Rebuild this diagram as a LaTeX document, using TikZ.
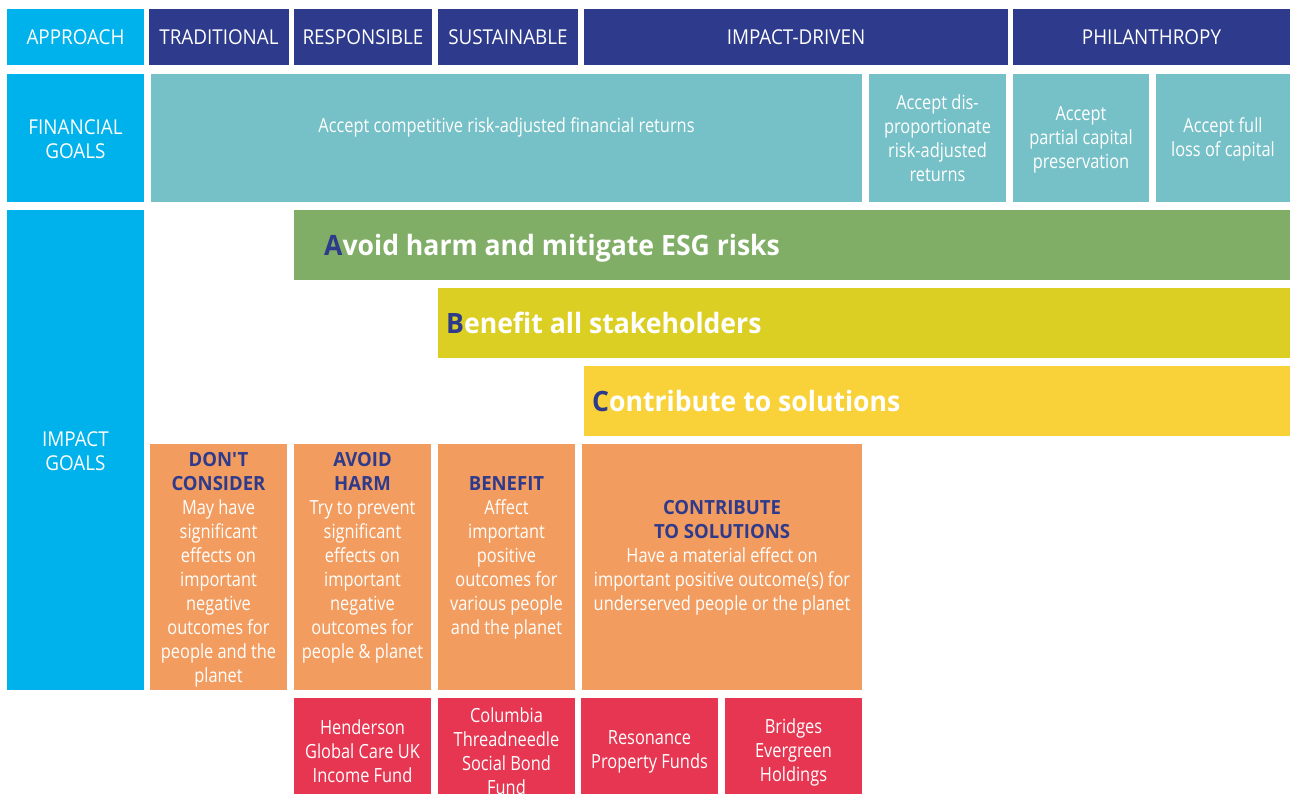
\documentclass[tikz,border=0pt]{standalone}
\usepackage{fontspec}
\setmainfont{Open Sans}[FakeStretch=0.84]
\newfontfamily\hdrfont{Open Sans}[FakeStretch=0.92]
\newfontfamily\boldfont{Open Sans}[FakeStretch=0.95]
\definecolor{cyanb}{HTML}{00B2EB}
\definecolor{navy}{HTML}{2E3A8B}
\definecolor{teal}{HTML}{76C1C7}
\definecolor{greenb}{HTML}{80AE66}
\definecolor{olive}{HTML}{DCCF23}
\definecolor{yell}{HTML}{F9D23A}
\definecolor{orng}{HTML}{F39C5F}
\definecolor{redb}{HTML}{E63652}
\newcommand\mycell[7]{\node[cell, fill=#6, minimum width={#4pt-#2pt}, minimum height={#5pt-#3pt}] (#1) at (#2,#3) {#7};}
\newcommand\hdrcell[7]{\node[cell, hdr, fill=#6, minimum width={#4pt-#2pt}, minimum height={#5pt-#3pt}] (#1) at (#2,#3) {#7};}
\newcommand\hdtxt[1]{\textcolor{navy}{\boldfont\bfseries #1}}
\begin{document}
\begin{tikzpicture}[x=1pt,y=-1pt,
  cell/.style={anchor=north west, inner sep=0pt, outer sep=0pt, align=center, text=white, font=\fontsize{19.5}{24}\selectfont},
  hdr/.style={font=\hdrfont\fontsize{20.5}{24}\selectfont},
  bodytxt/.style={align=center, text=white, inner sep=0pt, font=\fontsize{19.5}{24}\selectfont},
  bartxt/.style={anchor=base west, inner sep=0pt, text=white, font=\boldfont\bfseries\fontsize{28}{32}\selectfont}]
\useasboundingbox (0,0) rectangle (1290,793);
% header row
\hdrcell{ap}{7}{9}{144}{65}{cyanb}{APPROACH}
\hdrcell{tr}{149}{9}{289}{65}{navy}{TRADITIONAL}
\hdrcell{rs}{294}{9}{432}{65}{navy}{RESPONSIBLE}
\hdrcell{su}{438}{9}{578}{65}{navy}{SUSTAINABLE}
\hdrcell{id}{584}{9}{1008}{65}{navy}{IMPACT-DRIVEN}
\hdrcell{ph}{1013}{9}{1290}{65}{navy}{PHILANTHROPY}
% financial row
\mycell{fg}{7}{74}{144}{202}{cyanb}{}
\node[bodytxt, hdr] (fgt) at ([yshift=-1pt]fg.center) {FINANCIAL\\GOALS};
\mycell{f1}{151}{74}{862}{202}{teal}{}
\node[bodytxt] (f1t) at ([yshift=11pt]f1.center) {Accept competitive risk-adjusted financial returns};
\mycell{f2}{869}{74}{1006}{202}{teal}{Accept dis-\\proportionate\\risk-adjusted\\returns}
\mycell{f3}{1013}{74}{1149}{202}{teal}{}
\node[bodytxt] (f3t) at ([yshift=-2pt]f3.center) {Accept\\partial capital\\preservation};
\mycell{f4}{1156}{74}{1290}{202}{teal}{}
\node[bodytxt] (f4t) at ([yshift=-1pt]f4.center) {Accept full\\loss of capital};
% impact row
\mycell{ig}{7}{210}{144}{690}{cyanb}{}
\node[bodytxt, hdr] (igt) at ([yshift=-1pt]ig.center) {IMPACT\\GOALS};
\mycell{ba}{294}{210}{1290}{280}{greenb}{}
\mycell{bb}{438}{288}{1290}{358}{olive}{}
\mycell{bc}{584}{366}{1290}{436}{yell}{}
\node[bartxt] (bat) at ([xshift=30pt,yshift=-10pt]ba.west) {\textcolor{navy}{A}void harm and mitigate ESG risks};
\node[bartxt] (bbt) at ([xshift=8pt,yshift=-10pt]bb.west) {\textcolor{navy}{B}enefit all stakeholders};
\node[bartxt] (bct) at ([xshift=8pt,yshift=-10pt]bc.west) {\textcolor{navy}{C}ontribute to solutions};
% orange boxes
\mycell{dc}{150}{444}{287}{690}{orng}{}
\mycell{ah}{294}{444}{431}{690}{orng}{}
\mycell{be}{438}{444}{575}{690}{orng}{}
\mycell{cs}{582}{444}{862}{690}{orng}{}
\node[bodytxt] (dct) at ([yshift=-3pt]dc.center) {\hdtxt{DON'T}\\\hdtxt{CONSIDER}\\May have\\significant\\effects on\\important\\negative\\outcomes for\\people and the\\planet};
\node[bodytxt] (aht) at ([yshift=9pt]ah.center) {\hdtxt{AVOID}\\\hdtxt{HARM}\\Try to prevent\\significant\\effects on\\important\\negative\\outcomes for\\people \& planet};
\node[bodytxt] (bet) at ([yshift=9pt]be.center) {\hdtxt{BENEFIT}\\Affect\\important\\positive\\outcomes for\\various people\\and the planet};
\node[bodytxt] (cst) at ([yshift=9pt]cs.center) {\hdtxt{CONTRIBUTE}\\\hdtxt{TO SOLUTIONS}\\Have a material effect on\\important positive outcome(s) for\\underserved people or the planet};
% red boxes
\mycell{r1}{294}{698}{431}{802}{redb}{}
\mycell{r2}{438}{698}{575}{802}{redb}{}
\mycell{r3}{581}{698}{718}{802}{redb}{}
\mycell{r4}{725}{698}{862}{802}{redb}{}
\node[bodytxt] (r1t) at ([yshift=-1pt]r1.center) {Henderson\\Global Care UK\\Income Fund};
\node[bodytxt] (r2t) at ([yshift=-1pt]r2.center) {Columbia\\Threadneedle\\Social Bond\\Fund};
\node[bodytxt] (r3t) at ([yshift=-2pt]r3.center) {Resonance\\Property Funds};
\node[bodytxt] (r4t) at ([yshift=-2pt]r4.center) {Bridges\\Evergreen\\Holdings};
\end{tikzpicture}
\end{document}
